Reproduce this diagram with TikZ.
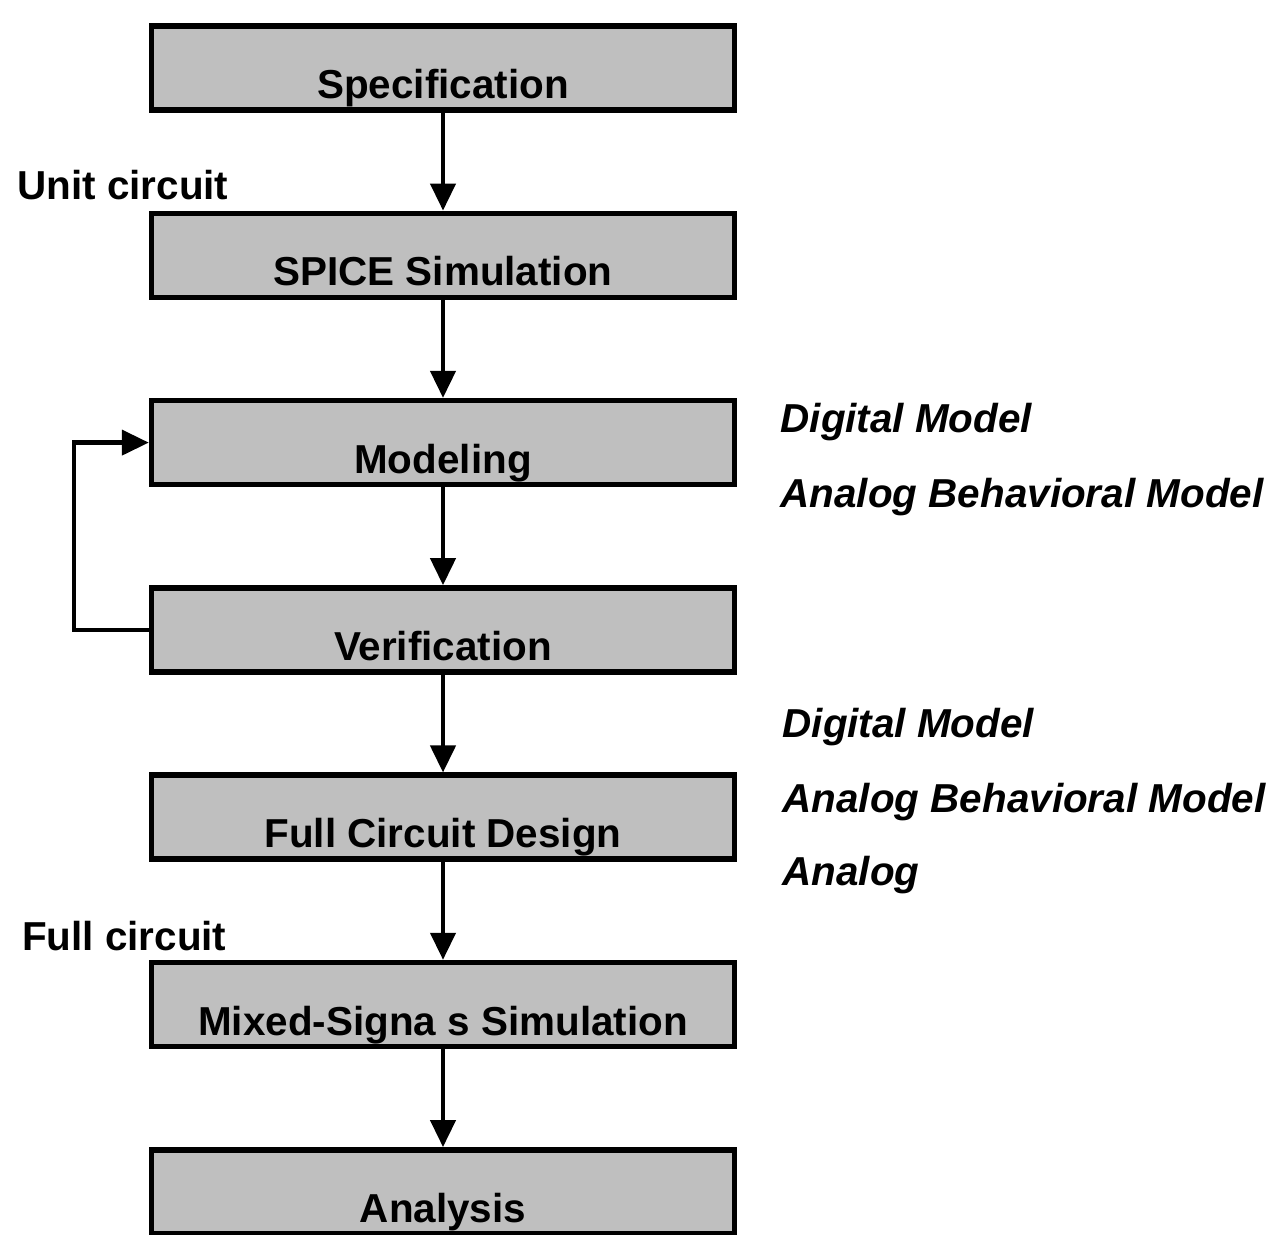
\documentclass[tikz,border=0pt]{standalone}
\usepackage{fontspec}
\setmainfont{Liberation Sans}
\usetikzlibrary{arrows.meta}

\begin{document}
\begin{tikzpicture}[
          flow-box/.style = {draw, rectangle, line width=3.1pt, fill=black!25,
            minimum width=11.66cm, minimum height=1.68cm, inner ysep=0pt,
            text height=1.45cm, text depth=0.23cm, text centered,
            font=\fontsize{23}{27}\selectfont\bfseries},
          side-lbl/.style = {inner sep=0pt, font=\fontsize{23}{27}\selectfont\bfseries},
          model-lbl/.style = {inner sep=0pt, anchor=base west,
            font=\fontsize{23}{27}\selectfont\bfseries\itshape},
          flow-arr/.style = {-{Triangle[length=0.54cm,width=0.5cm]}, line width=2.4pt},
          node distance = 3.746cm
        ]
          \useasboundingbox (0,0) rectangle (25.44,-24.68);

          \node[flow-box] at (8.86,-1.36) (spec) {Specification};
          \node[flow-box,below of=spec] (spice) {SPICE Simulation};
          \node[flow-box,below of=spice] (model) {Modeling};
          \node[flow-box,below of=model] (verif) {Verification};
          \node[flow-box,below of=verif] (full) {Full Circuit Design};
          \node[flow-box,below of=full] (mixed) {Mixed-Signa s Simulation};
          \node[flow-box,below of=mixed] (analysis) {Analysis};

          \node[side-lbl,anchor=base east] (unit) at ([xshift=1.6cm,yshift=0.22cm]spice.north west) {Unit circuit};
          \node[side-lbl,anchor=base east] (fullc) at ([xshift=1.56cm,yshift=0.18cm]mixed.north west) {Full circuit};

          \node[model-lbl] (dig1) at ([xshift=0.86cm,yshift=0.21cm]model.east) {Digital Model};
          \node[model-lbl] (abm1) at ([yshift=-1.5cm]dig1.base west) {Analog Behavioral Model};
          \node[model-lbl] (dig2) at ([xshift=0.9cm,yshift=1.6cm]full.east) {Digital Model};
          \node[model-lbl] (abm2) at ([yshift=-1.5cm]dig2.base west) {Analog Behavioral Model};
          \node[model-lbl] (ana2) at ([yshift=-1.46cm]abm2.base west) {Analog};

          \draw[flow-arr] (spec) -- (spice);
          \draw[flow-arr] (spice) -- (model);
          \draw[flow-arr] (model) -- (verif);
          \draw[flow-arr] (verif) -- (full);
          \draw[flow-arr] (full) -- (mixed);
          \draw[flow-arr] (mixed) -- (analysis);
          \draw[flow-arr] (verif.west) -- ++(-1.5,0) |- (model.west);
        \end{tikzpicture}
\end{document}
